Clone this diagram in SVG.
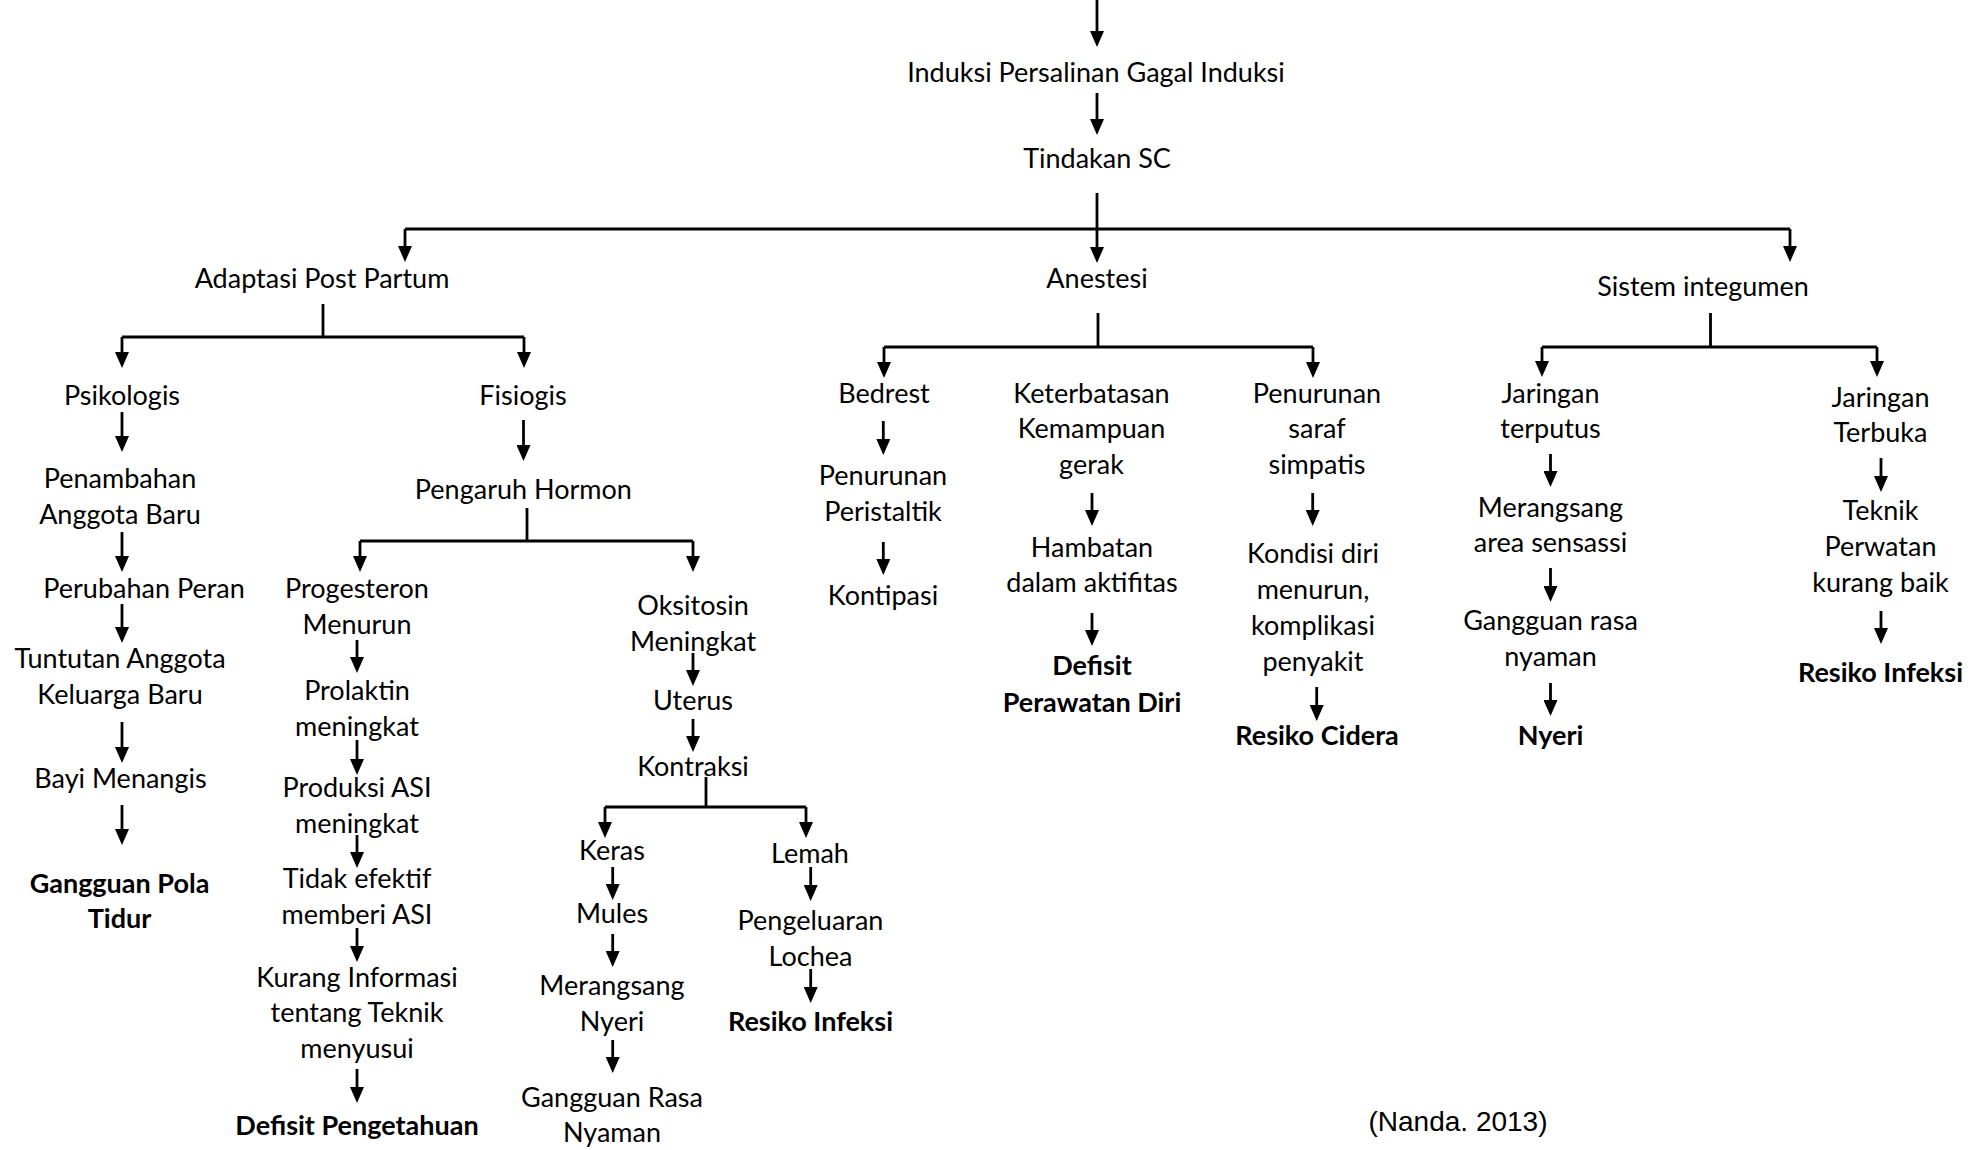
<svg xmlns="http://www.w3.org/2000/svg" width="1988" height="1150" viewBox="0 0 1988 1150">
<style>
.t{font-family:Lato,"Liberation Sans",sans-serif;font-size:27px;fill:#000;text-anchor:middle}
.b{font-weight:700}
.c{font-family:"Liberation Sans",Arial,sans-serif;font-size:28px;fill:#000;text-anchor:middle}
.ln{stroke:#000;stroke-width:2.8;fill:none}
.ar{marker-end:url(#ah)}
</style>
<defs>
<marker id="ah" markerUnits="userSpaceOnUse" viewBox="0 0 16 14" markerWidth="16" markerHeight="14" refX="10" refY="7" orient="auto"><path d="M0,0 L16,7 L0,14 z" fill="#000"/></marker>
</defs>
<rect width="1988" height="1150" fill="#fff"/>
<g id="connectors">
<path class="ln ar" d="M1097,0 V41"/>
<path class="ln ar" d="M1097,93 V129"/>
<path class="ln ar" d="M1097,193 V257"/>
<path class="ln" d="M405,229 H1790"/>
<path class="ln ar" d="M405,229 V256"/>
<path class="ln ar" d="M1790,229 V256"/>
<path class="ln" d="M323,304 V337 M122,337 H524"/>
<path class="ln ar" d="M122,337 V362"/>
<path class="ln ar" d="M524,337 V362"/>
<path class="ln" d="M1098,313 V347 M884,347 H1313"/>
<path class="ln ar" d="M884,347 V372"/>
<path class="ln ar" d="M1313,347 V372"/>
<path class="ln" d="M1710.5,313 V347 M1542,347 H1877"/>
<path class="ln ar" d="M1542,347 V371"/>
<path class="ln ar" d="M1877,347 V371"/>
<path class="ln ar" d="M122,412 V446"/>
<path class="ln ar" d="M122,532 V566"/>
<path class="ln ar" d="M122,604 V637"/>
<path class="ln ar" d="M122,722 V757"/>
<path class="ln ar" d="M122,805 V839"/>
<path class="ln ar" d="M523.5,420 V455"/>
<path class="ln" d="M527,508 V541 M360,541 H693"/>
<path class="ln ar" d="M360,541 V566"/>
<path class="ln ar" d="M693,541 V566"/>
<path class="ln ar" d="M357,640 V667"/>
<path class="ln ar" d="M357,740 V769"/>
<path class="ln ar" d="M357,835 V862"/>
<path class="ln ar" d="M357,928 V956"/>
<path class="ln ar" d="M357,1069 V1097"/>
<path class="ln ar" d="M693,653 V680"/>
<path class="ln ar" d="M693,719 V746"/>
<path class="ln" d="M706,777 V807 M605,807 H806"/>
<path class="ln ar" d="M605,807 V832"/>
<path class="ln ar" d="M806,807 V832"/>
<path class="ln ar" d="M612.7,867 V894"/>
<path class="ln ar" d="M612.7,934 V961"/>
<path class="ln ar" d="M612.7,1040 V1067"/>
<path class="ln ar" d="M810.7,867 V895"/>
<path class="ln ar" d="M810.7,969 V997"/>
<path class="ln ar" d="M883.3,421 V449"/>
<path class="ln ar" d="M883.3,542 V569"/>
<path class="ln ar" d="M1092,493 V520"/>
<path class="ln ar" d="M1092,613 V640"/>
<path class="ln ar" d="M1312.7,493 V520"/>
<path class="ln ar" d="M1316.7,687 V715"/>
<path class="ln ar" d="M1550.5,454 V481"/>
<path class="ln ar" d="M1550.5,568 V596"/>
<path class="ln ar" d="M1550.5,683 V710"/>
<path class="ln ar" d="M1881,458 V486"/>
<path class="ln ar" d="M1881,611 V638"/>
</g>
<g id="induksi"><text class="t" x="1096" y="82">Induksi Persalinan Gagal Induksi</text></g>
<g id="tindakan"><text class="t" x="1097" y="168">Tindakan SC</text></g>
<g id="adaptasi"><text class="t" x="322" y="288">Adaptasi Post Partum</text></g>
<g id="anestesi"><text class="t" x="1097" y="288">Anestesi</text></g>
<g id="sistem"><text class="t" x="1703" y="296">Sistem integumen</text></g>
<g id="psikologis"><text class="t" x="122" y="405">Psikologis</text></g>
<g id="penambahan"><text class="t" x="120" y="488">Penambahan<tspan x="120" y="524">Anggota Baru</tspan></text></g>
<g id="perubahan"><text class="t" x="144" y="598">Perubahan Peran</text></g>
<g id="tuntutan"><text class="t" x="120" y="668">Tuntutan Anggota<tspan x="120" y="704">Keluarga Baru</tspan></text></g>
<g id="bayi"><text class="t" x="120.5" y="788">Bayi Menangis</text></g>
<g id="gangguanPola"><text class="t b" x="119.5" y="893">Gangguan Pola<tspan x="119.5" y="928">Tidur</tspan></text></g>
<g id="fisiogis"><text class="t" x="523" y="405">Fisiogis</text></g>
<g id="pengaruh"><text class="t" x="523.4" y="499">Pengaruh Hormon</text></g>
<g id="progesteron"><text class="t" x="357" y="598">Progesteron<tspan x="357" y="634">Menurun</tspan></text></g>
<g id="prolaktin"><text class="t" x="357" y="700">Prolaktin<tspan x="357" y="736">meningkat</tspan></text></g>
<g id="produksi"><text class="t" x="357" y="797">Produksi ASI<tspan x="357" y="833">meningkat</tspan></text></g>
<g id="tidakEfektif"><text class="t" x="357" y="888">Tidak efektif<tspan x="357" y="924">memberi ASI</tspan></text></g>
<g id="kurangInfo"><text class="t" x="357" y="987">Kurang Informasi<tspan x="357" y="1022">tentang Teknik</tspan><tspan x="357" y="1058">menyusui</tspan></text></g>
<g id="defisitPengetahuan"><text class="t b" x="357" y="1135">Defisit Pengetahuan</text></g>
<g id="oksitosin"><text class="t" x="693" y="615">Oksitosin<tspan x="693" y="651">Meningkat</tspan></text></g>
<g id="uterus"><text class="t" x="693" y="710">Uterus</text></g>
<g id="kontraksi"><text class="t" x="693" y="776">Kontraksi</text></g>
<g id="keras"><text class="t" x="612" y="860">Keras</text></g>
<g id="mules"><text class="t" x="612" y="923">Mules</text></g>
<g id="merangsangNyeri"><text class="t" x="612" y="995">Merangsang<tspan x="612" y="1031">Nyeri</tspan></text></g>
<g id="gangguanRasa"><text class="t" x="612" y="1107">Gangguan Rasa<tspan x="612" y="1142">Nyaman</tspan></text></g>
<g id="lemah"><text class="t" x="810" y="863">Lemah</text></g>
<g id="pengeluaran"><text class="t" x="810.5" y="930">Pengeluaran<tspan x="810.5" y="966">Lochea</tspan></text></g>
<g id="resikoInfeksi1"><text class="t b" x="810.5" y="1031">Resiko Infeksi</text></g>
<g id="bedrest"><text class="t" x="884" y="403">Bedrest</text></g>
<g id="penurunanPeristaltik"><text class="t" x="883" y="485">Penurunan<tspan x="883" y="521">Peristaltik</tspan></text></g>
<g id="kontipasi"><text class="t" x="883" y="605">Kontipasi</text></g>
<g id="keterbatasan"><text class="t" x="1091.5" y="403">Keterbatasan<tspan x="1091.5" y="438">Kemampuan</tspan><tspan x="1091.5" y="474">gerak</tspan></text></g>
<g id="hambatan"><text class="t" x="1092" y="557">Hambatan<tspan x="1092" y="592">dalam aktifitas</tspan></text></g>
<g id="defisitPerawatan"><text class="t b" x="1092" y="675">Defisit<tspan x="1092" y="712">Perawatan Diri</tspan></text></g>
<g id="penurunanSaraf"><text class="t" x="1317" y="403">Penurunan<tspan x="1317" y="438">saraf</tspan><tspan x="1317" y="474">simpatis</tspan></text></g>
<g id="kondisi"><text class="t" x="1313" y="563">Kondisi diri<tspan x="1313" y="599">menurun,</tspan><tspan x="1313" y="635">komplikasi</tspan><tspan x="1313" y="671">penyakit</tspan></text></g>
<g id="resikoCidera"><text class="t b" x="1317" y="745">Resiko Cidera</text></g>
<g id="jaringanTerputus"><text class="t" x="1550.5" y="403">Jaringan<tspan x="1550.5" y="438">terputus</tspan></text></g>
<g id="merangsangArea"><text class="t" x="1550.5" y="517">Merangsang<tspan x="1550.5" y="552">area sensassi</tspan></text></g>
<g id="gangguanRasaNyaman"><text class="t" x="1550.5" y="630">Gangguan rasa<tspan x="1550.5" y="666">nyaman</tspan></text></g>
<g id="nyeri"><text class="t b" x="1550.5" y="745">Nyeri</text></g>
<g id="jaringanTerbuka"><text class="t" x="1880.5" y="407">Jaringan<tspan x="1880.5" y="442">Terbuka</tspan></text></g>
<g id="teknik"><text class="t" x="1880.5" y="520">Teknik<tspan x="1880.5" y="556">Perwatan</tspan><tspan x="1880.5" y="592">kurang baik</tspan></text></g>
<g id="resikoInfeksi2"><text class="t b" x="1880.5" y="682">Resiko Infeksi</text></g>
<g id="citation"><text class="c" x="1458" y="1131">(Nanda. 2013)</text></g>
</svg>
